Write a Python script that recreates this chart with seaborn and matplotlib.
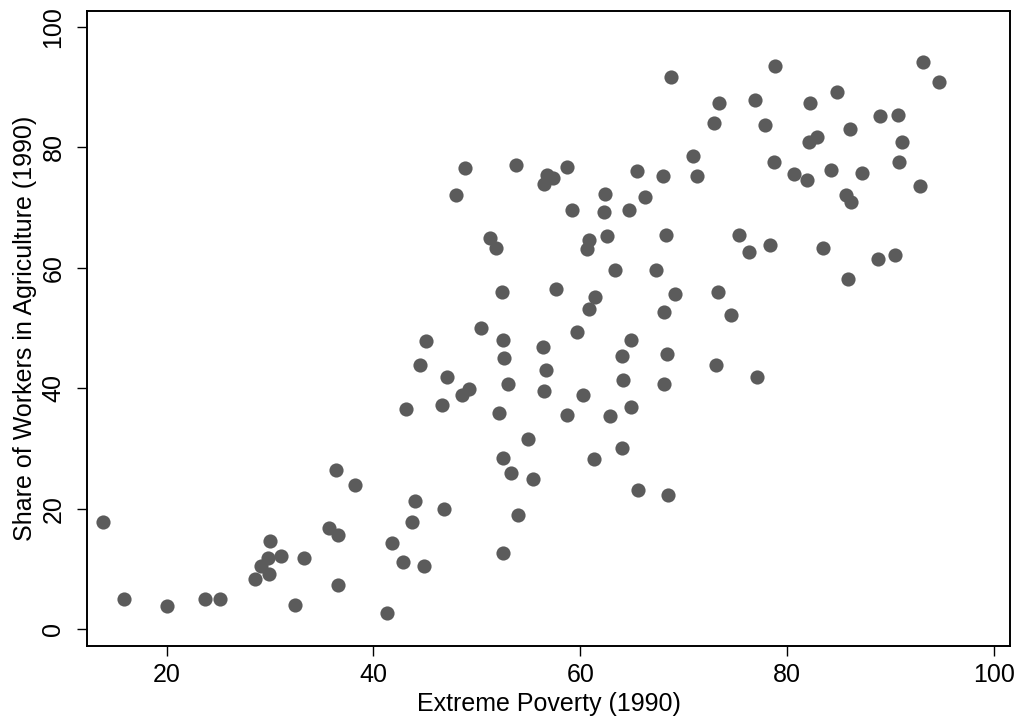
import matplotlib
matplotlib.use("Agg")
import matplotlib.pyplot as plt
import seaborn as sns
import pandas as pd

# Extreme poverty rate and share of workers in agriculture, 1990
poverty = [
    13.8, 15.9, 20.0, 23.7, 25.2, 28.5, 29.15, 29.8, 29.9, 30.0, 31.05, 33.3, 32.4,
    35.7, 36.6, 36.6, 36.4, 38.2,
    43.1, 46.6, 52.1, 58.7, 62.9, 64.9, 54.9, 52.5, 53.3, 55.4, 61.3, 64.0, 65.6,
    68.5, 54.0, 52.5, 44.0, 46.8, 43.7, 41.8, 42.9, 44.9, 41.3,
    51.8, 51.3, 60.6, 60.8, 62.6, 68.3, 63.4, 67.3, 52.4, 57.6, 61.4, 60.8, 69.2,
    68.1, 59.7, 50.4, 52.5, 56.4, 64.9, 64.0, 68.4, 45.1, 44.5, 52.6, 56.7, 47.1,
    49.2, 48.6, 53.0, 56.5, 60.3, 64.1, 68.1,
    68.8, 48.8, 48.0, 53.8, 56.8, 57.4, 56.5, 58.7, 65.5, 68.0, 62.4, 66.3, 59.2,
    62.3, 64.7,
    78.8, 93.1, 94.7, 73.4, 76.9, 82.2, 84.8, 72.9, 77.9, 89.0, 90.7, 86.1, 82.9,
    82.1, 91.1, 70.9, 71.3, 78.7, 90.8, 80.7, 81.9, 84.2, 87.2, 85.7, 86.2, 92.8,
    75.3,
    76.3, 78.3, 83.5, 88.8, 90.4, 85.9, 73.3, 74.6, 73.1, 77.1,
]
agriculture = [
    17.8, 5.0, 3.9, 5.0, 5.0, 8.3, 10.5, 11.9, 9.2, 14.7, 12.2, 11.9, 4.1,
    16.9, 15.6, 7.3, 26.5, 23.9,
    36.5, 37.2, 35.9, 35.6, 35.4, 36.9, 31.6, 28.5, 25.9, 24.9, 28.3, 30.1, 23.2,
    22.3, 19.0, 12.6, 21.3, 20.0, 17.8, 14.4, 11.2, 10.6, 2.8,
    63.2, 64.9, 63.1, 64.6, 65.2, 65.4, 59.7, 59.7, 55.9, 56.5, 55.2, 53.1, 55.6,
    52.7, 49.4, 50.0, 48.1, 46.9, 48.1, 45.4, 45.7, 47.8, 43.8, 45.1, 43.0, 41.9,
    39.9, 38.9, 40.7, 39.5, 38.9, 41.4, 40.7,
    91.7, 76.5, 72.1, 77.1, 75.4, 74.9, 73.9, 76.8, 76.1, 75.3, 72.2, 71.7, 69.6,
    69.2, 69.6,
    93.5, 94.1, 90.9, 87.4, 87.8, 87.3, 89.1, 84.1, 83.7, 85.1, 85.3, 83.1, 81.7,
    80.9, 80.9, 78.5, 75.2, 77.5, 77.6, 75.6, 74.6, 76.3, 75.7, 72.1, 70.9, 73.6,
    65.5,
    62.6, 63.7, 63.3, 61.5, 62.1, 58.2, 56.0, 52.2, 43.9, 41.9,
]

x_ticks = [20, 40, 60, 80, 100]
y_ticks = [0, 20, 40, 60, 80, 100]

df = pd.DataFrame({"Extreme Poverty (1990)": poverty,
                   "Share of Workers in Agriculture (1990)": agriculture})

sns.set_theme(style="ticks")
plt.rcParams["font.family"] = ["Liberation Sans", "DejaVu Sans"]

fig = plt.figure(figsize=(10.19, 7.19), dpi=100)
ax = fig.add_axes([0.0854, 0.1015, 0.9058, 0.8832])

sns.scatterplot(data=df, x="Extreme Poverty (1990)",
                y="Share of Workers in Agriculture (1990)",
                ax=ax, color="#5b5b5b", s=104, linewidth=0, alpha=1)

ax.set_xlim(12.3, 101.55)
ax.set_ylim(-2.75, 102.6)
ax.set_xticks(x_ticks)
ax.set_yticks(y_ticks)
ax.set_xticklabels([str(t) for t in x_ticks])
ax.set_yticklabels([str(t) for t in y_ticks], rotation=90, va="center")

for side in ax.spines.values():
    side.set_visible(True)
    side.set_linewidth(1.4)
    side.set_color("black")

ax.tick_params(axis="both", direction="out", length=7.5, width=1.0,
               colors="black", labelsize=18, labelcolor="black")
ax.tick_params(axis="x", pad=5)
ax.tick_params(axis="y", pad=8)

ax.set_xlabel("Extreme Poverty (1990)", fontsize=18, color="black", labelpad=3)
ax.set_ylabel("Share of Workers in Agriculture (1990)", fontsize=18,
              color="black", labelpad=3)
ax.grid(False)
ax.set_facecolor("white")
fig.patch.set_facecolor("white")

fig.savefig("out.png", dpi=100)
